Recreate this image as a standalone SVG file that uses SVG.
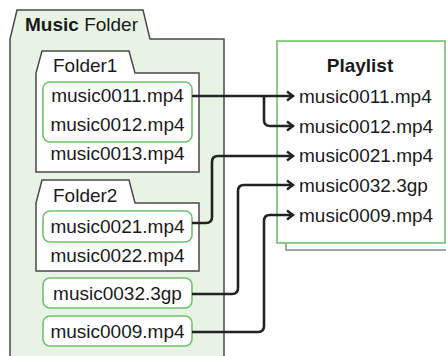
<svg xmlns="http://www.w3.org/2000/svg" width="446" height="356" viewBox="0 0 446 356">
<style>
text{font-family:"Liberation Sans",Arial,sans-serif;font-size:19px;fill:#1a1a1a}
.b{font-weight:bold}
.m{text-anchor:middle}
.folder{stroke:#4a4a4a;stroke-width:1.5;stroke-linejoin:miter}
.sel{fill:#fff;stroke:#6cc36a;stroke-width:1.6}
.conn{fill:none;stroke:#222;stroke-width:2.6;marker-end:url(#arr)}
</style>
<defs>
<marker id="arr" markerUnits="userSpaceOnUse" markerWidth="12" markerHeight="12" refX="8" refY="6" orient="auto">
<path d="M2,1.5 L8,6 L2,10.5" fill="none" stroke="#222" stroke-width="2.4" stroke-linejoin="miter"/>
</marker>
</defs>
<rect width="446" height="356" fill="#fff"/>
<g id="music-folder">
<path class="folder" d="M10,362 L10,39 L17,10 L143,10 L150,39 L224,39 L224,362 Z" fill="#e9f3e5"/>
<text x="25" y="31"><tspan class="b">Music</tspan> Folder</text>
</g>
<g id="folder1">
<path class="folder" d="M36,172 L36,73 L42,51 L129,51 L135,73 L199,73 L199,172 Z" fill="#fff"/>
<text x="53" y="72">Folder1</text>
<rect class="sel" x="43" y="82" width="149" height="60" rx="7"/>
<text class="m" x="117.5" y="102">music0011.mp4</text>
<text class="m" x="117.5" y="131">music0012.mp4</text>
<text class="m" x="117.5" y="160">music0013.mp4</text>
</g>
<g id="folder2">
<path class="folder" d="M36,271 L36,203 L42,180 L129,180 L135,203 L199,203 L199,271 Z" fill="#fff"/>
<text x="53" y="202">Folder2</text>
<rect class="sel" x="43" y="211" width="149" height="31" rx="7"/>
<text class="m" x="117.5" y="233">music0021.mp4</text>
<text class="m" x="117.5" y="262">music0022.mp4</text>
</g>
<g id="file0032">
<rect class="sel" x="43" y="278" width="149" height="30" rx="7"/>
<text class="m" x="117.5" y="300">music0032.3gp</text>
</g>
<g id="file0009">
<rect class="sel" x="43" y="316" width="149" height="30" rx="7"/>
<text class="m" x="117.5" y="338">music0009.mp4</text>
</g>
<g id="playlist">
<rect x="286" y="48" width="170" height="202" fill="#fff" stroke="#8a8a8a" stroke-width="1.5"/>
<rect x="277" y="41" width="168" height="202" fill="#fff" stroke="#6cc36a" stroke-width="1.6"/>
<text class="b m" x="360" y="72">Playlist</text>
<text x="299" y="103">music0011.mp4</text>
<text x="299" y="133">music0012.mp4</text>
<text x="299" y="162">music0021.mp4</text>
<text x="299" y="192">music0032.3gp</text>
<text x="299" y="222">music0009.mp4</text>
</g>
<g id="connectors">
<path class="conn" d="M192,96 H293"/>
<path class="conn" d="M264,96 V120 Q264,126 270,126 H293"/>
<path class="conn" d="M192,223 H206 Q212,223 212,217 V162 Q212,156 218,156 H293"/>
<path class="conn" d="M192,294 H232 Q238,294 238,288 V191 Q238,185 244,185 H293"/>
<path class="conn" d="M192,332 H258 Q264,332 264,326 V221 Q264,215 270,215 H293"/>
</g>
</svg>
